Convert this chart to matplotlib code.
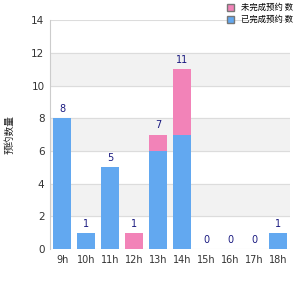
import matplotlib.pyplot as plt
import numpy as np
from matplotlib.patches import Patch

plt.rcParams['font.family'] = ['Noto Sans CJK SC', 'DejaVu Sans']

hours = ['9h', '10h', '11h', '12h', '13h', '14h', '15h', '16h', '17h', '18h']
done = [8, 1, 5, 0, 6, 7, 0, 0, 0, 1]
pending = [0, 0, 0, 1, 1, 4, 0, 0, 0, 0]
legend_labels = ['未完成预约 数', '已完成预约 数']
y_label = '预约数量'

blue = '#62a8f0'
pink = '#f283b8'

fig = plt.figure(figsize=(3, 3), dpi=100)
ax = fig.add_axes([0.167, 0.17, 0.8, 0.763])

x = np.arange(len(hours))
ax.set_xlim(-0.5, len(hours) - 0.5)
ax.set_ylim(0, 14)

# alternating bands
for i, lo in enumerate(range(0, 14, 2)):
    if i % 2 == 1:
        ax.axhspan(lo, lo + 2, color='#f2f2f2', zorder=0)
for yv in range(0, 15, 2):
    ax.axhline(yv, color='#dcdcdc', lw=0.8, zorder=0.5)

ax.bar(x, done, width=0.75, color=blue, zorder=2)
ax.bar(x, pending, width=0.75, bottom=done, color=pink, zorder=2)

totals = [d + p for d, p in zip(done, pending)]
for xi, t in zip(x, totals):
    ax.text(xi, t + 0.25, str(t), ha='center', va='bottom', fontsize=7,
            color='#1a1a80', family='DejaVu Sans')

ax.set_xticks(x)
ax.set_xticklabels(hours, fontsize=7, color='#333333', family='DejaVu Sans')
ax.set_yticks(range(0, 15, 2))
ax.set_yticklabels([str(v) for v in range(0, 15, 2)], fontsize=7.5,
                   color='#333333', family='DejaVu Sans')
ax.tick_params(length=0, pad=4)
for s in ['top', 'right', 'bottom']:
    ax.spines[s].set_visible(False)
ax.spines['left'].set_color('#cccccc')

ax.set_ylabel(y_label, fontsize=7, color='#222222', labelpad=12)

handles = [Patch(facecolor=pink, edgecolor='#777777'),
           Patch(facecolor=blue, edgecolor='#777777')]
fig.legend(handles, legend_labels, loc='upper left', bbox_to_anchor=(0.73, 1.015),
           frameon=False, fontsize=6, handlelength=0.9, handleheight=0.9,
           handletextpad=0.8, labelspacing=0.4)

fig.savefig('out.png', dpi=100)
